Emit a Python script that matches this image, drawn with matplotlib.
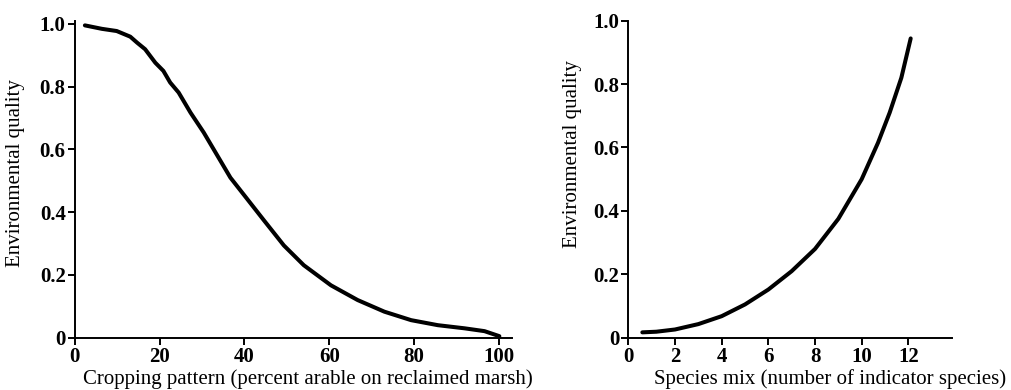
import matplotlib
matplotlib.use('Agg')
import matplotlib.pyplot as plt

plt.rcParams['font.family'] = ['Liberation Serif', 'DejaVu Serif']

# left panel: cropping pattern vs environmental quality
crop_x = [2.4, 6.4, 9.9, 13.1, 14.7, 16.6, 19.0, 20.9, 22.5, 24.5, 27.3, 30.4,
          33.2, 36.7, 39.9, 44.6, 49.3, 54.0, 60.4, 66.7, 73.0, 79.3, 85.6,
          91.9, 96.6, 100.1]
crop_y = [0.995, 0.984, 0.977, 0.959, 0.940, 0.919, 0.876, 0.850, 0.813, 0.781,
          0.717, 0.654, 0.590, 0.510, 0.455, 0.374, 0.294, 0.231, 0.167, 0.120,
          0.083, 0.056, 0.040, 0.030, 0.021, 0.005]

# right panel: species mix vs environmental quality
species_x = [0.6, 1.2, 2.0, 3.0, 4.0, 5.0, 6.0, 7.0, 8.0, 9.0, 10.0, 10.7,
             11.2, 11.7, 12.1]
species_y = [0.017, 0.019, 0.026, 0.043, 0.068, 0.105, 0.152, 0.210, 0.280,
             0.375, 0.500, 0.615, 0.710, 0.820, 0.944]

crop_ticks = [0, 20, 40, 60, 80, 100]
species_ticks = [0, 2, 4, 6, 8, 10, 12]
quality_ticks = [0, 0.2, 0.4, 0.6, 0.8, 1.0]
quality_labels = ['0', '0.2', '0.4', '0.6', '0.8', '1.0']

fig = plt.figure(figsize=(10.11, 3.9), dpi=100)
ax1 = fig.add_axes([0.0739, 0.134, 0.4322, 0.813])
ax2 = fig.add_axes([0.6215, 0.134, 0.3199, 0.813])


def style(ax):
    for s in ['top', 'right']:
        ax.spines[s].set_visible(False)
    for s in ['left', 'bottom']:
        ax.spines[s].set_linewidth(1.4)
    ax.tick_params(direction='out', length=5, width=1.4, pad=1.5,
                   labelsize=15)
    for lab in ax.get_xticklabels() + ax.get_yticklabels():
        lab.set_fontweight('bold')


ax1.plot(crop_x, crop_y, color='black', lw=2.9, solid_capstyle='round',
         solid_joinstyle='round')
ax1.set_xlim(0, 103)
ax1.set_xticks(crop_ticks)
ax1.set_yticks(quality_ticks, quality_labels)
style(ax1)
ax1.set_ylim(0, 1.01)
ax1.set_ylabel('Environmental quality', fontsize=15)
ax1.yaxis.set_label_coords(-0.114, 0.52)
ax1.set_xlabel('Cropping pattern (percent arable on reclaimed marsh)', fontsize=15)
ax1.xaxis.set_label_coords(0.534, -0.1)

ax2.plot(species_x, species_y, color='black', lw=2.9, solid_capstyle='round',
         solid_joinstyle='round')
ax2.set_xlim(0, 13.86)
ax2.set_xticks(species_ticks)
ax2.set_yticks(quality_ticks, quality_labels)
style(ax2)
ax2.set_ylim(0, 1.0)
ax2.set_ylabel('Environmental quality', fontsize=15)
ax2.yaxis.set_label_coords(-0.144, 0.58)
ax2.set_xlabel('Species mix (number of indicator species)', fontsize=15)
ax2.xaxis.set_label_coords(0.624, -0.1)

fig.savefig('out.png', dpi=100)
